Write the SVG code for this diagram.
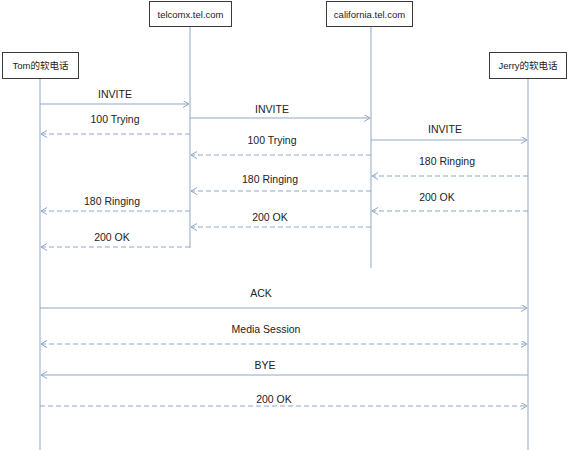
<svg xmlns="http://www.w3.org/2000/svg" width="567" height="450" viewBox="0 0 567 450">
<style>
.box{fill:#fff;stroke:#3a3a3a;stroke-width:1}
.life{stroke:#8fa6c6;stroke-width:1;fill:none}
.msg{stroke:#8fa6c6;stroke-width:1;fill:none}
.dash{stroke-dasharray:5,3}
.nt{font-family:"Liberation Sans","Noto Sans CJK SC",sans-serif;font-size:9.5px;fill:#222;text-anchor:middle}
.lt{font-family:"Liberation Sans",sans-serif;font-size:10.5px;fill:#222;text-anchor:middle}
</style>
<defs>
<marker id="ah" markerUnits="userSpaceOnUse" markerWidth="8" markerHeight="8" refX="6" refY="3.5" orient="auto-start-reverse">
<path d="M0,0 L6,3.5 L0,7" fill="none" stroke="#8fa6c6" stroke-width="1"/>
</marker>
</defs>
<rect width="567" height="450" fill="#fff"/>
<g id="tom">
<line class="life" x1="40" y1="78" x2="40" y2="450"/>
<rect class="box" x="2.5" y="52.5" width="76" height="26"/>
<text class="nt" x="40.5" y="69">Tom的软电话</text>
</g>
<g id="telcomx">
<line class="life" x1="190" y1="26" x2="190" y2="248"/>
<rect class="box" x="149.5" y="1.5" width="82" height="25"/>
<text class="nt" x="190.5" y="18">telcomx.tel.com</text>
</g>
<g id="california">
<line class="life" x1="371" y1="26" x2="371" y2="268"/>
<rect class="box" x="326.5" y="1.5" width="86" height="25"/>
<text class="nt" x="369.5" y="18">california.tel.com</text>
</g>
<g id="jerry">
<line class="life" x1="528" y1="78" x2="528" y2="450"/>
<rect class="box" x="489.5" y="52.5" width="77" height="26"/>
<text class="nt" x="528" y="69">Jerry的软电话</text>
</g>
<g id="connectors">
<line class="msg" x1="40" y1="104" x2="189" y2="104" marker-end="url(#ah)"/>
<text class="lt" x="115" y="98">INVITE</text>
<line class="msg" x1="190" y1="118" x2="370" y2="118" marker-end="url(#ah)"/>
<text class="lt" x="272" y="112.5">INVITE</text>
<line class="msg dash" x1="190" y1="134" x2="41" y2="134" marker-end="url(#ah)"/>
<text class="lt" x="115" y="123">100 Trying</text>
<line class="msg" x1="371" y1="140" x2="527" y2="140" marker-end="url(#ah)"/>
<text class="lt" x="445" y="133">INVITE</text>
<line class="msg dash" x1="371" y1="155" x2="191" y2="155" marker-end="url(#ah)"/>
<text class="lt" x="272" y="144">100 Trying</text>
<line class="msg dash" x1="528" y1="176" x2="372" y2="176" marker-end="url(#ah)"/>
<text class="lt" x="447" y="164.5">180 Ringing</text>
<line class="msg dash" x1="371" y1="191" x2="191" y2="191" marker-end="url(#ah)"/>
<text class="lt" x="270" y="183">180 Ringing</text>
<line class="msg dash" x1="528" y1="211" x2="372" y2="211" marker-end="url(#ah)"/>
<text class="lt" x="437" y="200.5">200 OK</text>
<line class="msg dash" x1="190" y1="211" x2="41" y2="211" marker-end="url(#ah)"/>
<text class="lt" x="112" y="205">180 Ringing</text>
<line class="msg dash" x1="371" y1="227" x2="191" y2="227" marker-end="url(#ah)"/>
<text class="lt" x="270" y="220.5">200 OK</text>
<line class="msg dash" x1="190" y1="247" x2="41" y2="247" marker-end="url(#ah)"/>
<text class="lt" x="112" y="241">200 OK</text>
<line class="msg" x1="40" y1="308" x2="527" y2="308" marker-end="url(#ah)"/>
<text class="lt" x="261" y="297">ACK</text>
<line class="msg dash" x1="41" y1="344" x2="527" y2="344" marker-start="url(#ah)" marker-end="url(#ah)"/>
<text class="lt" x="266" y="333">Media Session</text>
<line class="msg" x1="528" y1="375" x2="41" y2="375" marker-end="url(#ah)"/>
<text class="lt" x="265" y="369">BYE</text>
<line class="msg dash" x1="40" y1="406" x2="527" y2="406" marker-end="url(#ah)"/>
<text class="lt" x="274" y="403">200 OK</text>
</g>
</svg>
